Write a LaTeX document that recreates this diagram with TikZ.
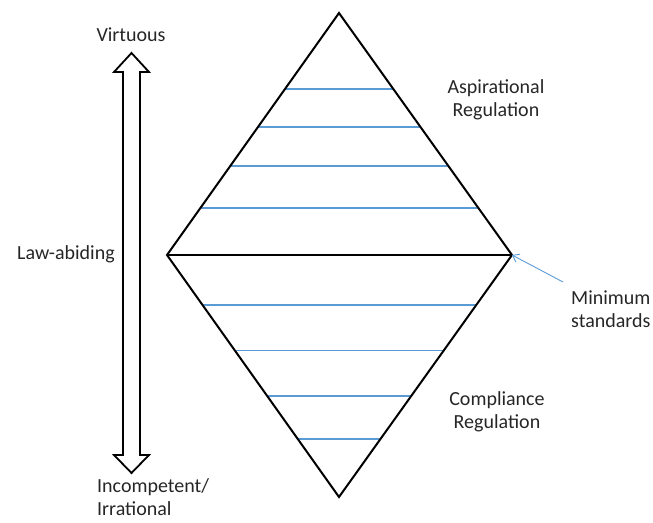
\documentclass[tikz,border=0pt]{standalone}
\usepackage{fontspec}
\setmainfont{Carlito}
\usetikzlibrary{arrows.meta,calc}
\definecolor{lineblue}{RGB}{91,155,213}
\tikzset{
  edge/.style={draw=black,line width=2pt,line join=miter},
  level/.style={draw=lineblue,line width=1.5pt},
  lbl/.style={inner sep=0pt,align=center,font=\fontsize{20}{23.5}\selectfont,text=black!85},
  pointer/.style={draw=lineblue,line width=0.9pt,-{Straight Barb[length=6pt,width=9pt]}}
}
\begin{document}
\begin{tikzpicture}[x=1pt,y=-1pt]
\useasboundingbox (0,0) rectangle (653,522);
% diamond vertices
\coordinate (T) at (339,13);
\coordinate (L) at (167,255);
\coordinate (R) at (512,255);
\coordinate (B) at (339,497);
% blue levels (upper)
\foreach \t in {0.314,0.471,0.632,0.806}{
  \draw[level] ($(T)!\t!(L)$) -- ($(T)!\t!(R)$);
}
% blue levels (lower)
\foreach \t in {0.206,0.395,0.582,0.761}{
  \draw[level] ($(L)!\t!(B)$) -- ($(R)!\t!(B)$);
}
\draw[edge] (T) -- (R) -- (B) -- (L) -- cycle;
\draw[edge] (L) -- (R);
% double block arrow
\draw[black,line width=1.8pt,line join=miter,fill=white]
  (131.5,53) -- (149,72) -- (140,72) -- (140,455) -- (149,455) -- (131.5,473)
  -- (114,455) -- (123,455) -- (123,72) -- (114,72) -- cycle;
% labels
\node[lbl] (virt) at (131,35) {Virtuous};
\node[lbl] (law) at (66,254) {Law-abiding};
\node[lbl,align=left,anchor=north west] (inc) at (97,478) {Incompetent/\\Irrational};
\node[lbl] (asp) at (496,100) {Aspirational\\Regulation};
\node[lbl,align=left,anchor=west] (mins) at (571,309) {Minimum\\standards};
\node[lbl] (comp) at (497,412) {Compliance\\Regulation};
\coordinate (ptrstart) at (563,282);
\draw[pointer] (ptrstart) -- (R);
\end{tikzpicture}
\end{document}
